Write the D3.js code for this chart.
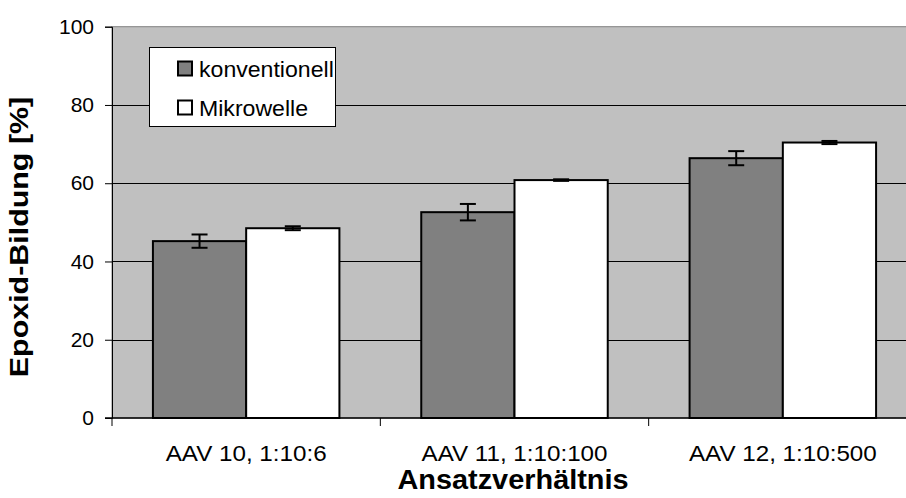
<!DOCTYPE html>
<html>
<head>
<meta charset="utf-8">
<script src="https://cdn.jsdelivr.net/npm/d3@7"></script>
<style>
  body { margin: 0; background: #fff; }
  text { font-family: "Liberation Sans", Arial, sans-serif; fill: #000; }
</style>
</head>
<body>
<div id="chart"></div>
<script>
// categories and series
var categories = ["AAV 10, 1:10:6", "AAV 11, 1:10:100", "AAV 12, 1:10:500"];
var seriesNames = ["konventionell", "Mikrowelle"];
var konventionell = [45.2, 52.6, 66.4];
var konventionellErr = [1.7, 2.1, 1.8];
var mikrowelle = [48.5, 60.8, 70.4];
var mikrowelleErr = [0.5, 0.2, 0.4];
var yTicks = [0, 20, 40, 60, 80, 100];

var colors = { "konventionell": "#808080", "Mikrowelle": "#ffffff" };

var width = 906, height = 498;
var plot = { left: 112, top: 26.7, right: 917, bottom: 418 };

// build rows for the groups
var rows = categories.map(function(c, i) {
    return {
        cat: c,
        vals: [
            { s: "konventionell", v: konventionell[i], e: konventionellErr[i] },
            { s: "Mikrowelle", v: mikrowelle[i], e: mikrowelleErr[i] }
        ]
    };
});

var svg = d3.select("#chart").append("svg")
    .attr("width", width)
    .attr("height", height);

var x0 = d3.scaleBand()
    .domain(categories)
    .range([plot.left, plot.right])
    .paddingInner(0.305)
    .paddingOuter(0.1525);

var x1 = d3.scaleBand()
    .domain(seriesNames)
    .range([0, x0.bandwidth()]);

var y = d3.scaleLinear()
    .domain([0, 100])
    .range([plot.bottom, plot.top]);

// plot area
svg.append("rect")
    .attr("x", plot.left)
    .attr("y", y(100))
    .attr("width", plot.right - plot.left)
    .attr("height", y(0) - y(100))
    .attr("fill", "#c0c0c0")
    .attr("stroke", "#808080")
    .attr("stroke-width", 1);

// gridlines
svg.append("g")
    .selectAll("line")
    .data(yTicks.filter(function(d) { return d > 0 && d < 100; }))
    .enter().append("line")
    .attr("x1", plot.left)
    .attr("x2", plot.right)
    .attr("y1", function(d) { return Math.round(y(d)) + 0.5; })
    .attr("y2", function(d) { return Math.round(y(d)) + 0.5; })
    .attr("stroke", "#000")
    .attr("stroke-width", 1);

// bars
var group = svg.append("g").selectAll("g")
    .data(rows)
    .enter().append("g")
    .attr("transform", function(d) { return "translate(" + x0(d.cat) + ",0)"; });

group.selectAll("rect")
    .data(function(d) { return d.vals; })
    .enter().append("rect")
    .attr("x", function(d) { return x1(d.s); })
    .attr("y", function(d) { return y(d.v); })
    .attr("width", x1.bandwidth())
    .attr("height", function(d) { return y(0) - y(d.v); })
    .attr("fill", function(d) { return colors[d.s]; })
    .attr("stroke", "#000")
    .attr("stroke-width", 2);

// error bars
var err = group.selectAll(".err")
    .data(function(d) { return d.vals; })
    .enter().append("g")
    .attr("class", "err")
    .attr("transform", function(d) { return "translate(" + (x1(d.s) + x1.bandwidth() / 2) + ",0)"; });

err.append("line")
    .attr("y1", function(d) { return y(d.v - d.e); })
    .attr("y2", function(d) { return y(d.v + d.e); })
    .attr("stroke", "#000")
    .attr("stroke-width", 2);

err.selectAll(".cap")
    .data(function(d) { return [d.v - d.e, d.v + d.e]; })
    .enter().append("line")
    .attr("x1", -8)
    .attr("x2", 8)
    .attr("y1", function(d) { return y(d); })
    .attr("y2", function(d) { return y(d); })
    .attr("stroke", "#000")
    .attr("stroke-width", 2);

// y axis
var yAxis = d3.axisLeft(y)
    .tickValues(yTicks)
    .tickSize(7)
    .tickPadding(11);

var yg = svg.append("g")
    .attr("transform", "translate(" + plot.left + ",0)")
    .call(yAxis);
yg.select(".domain").attr("stroke", "#000");
yg.selectAll("text")
    .style("font-size", "21px")
    .style("font-family", "'Liberation Sans', Arial, sans-serif");

// x axis: ticks sit between categories
var xg = svg.append("g")
    .attr("transform", "translate(0," + plot.bottom + ")");
xg.append("line")
    .attr("x1", plot.left - 7)
    .attr("x2", plot.right)
    .attr("stroke", "#000")
    .attr("stroke-width", 1.5);

var step = x0.step();
xg.selectAll(".tk")
    .data(categories)
    .enter().append("line")
    .attr("x1", function(c) { return x0(c) - x0.paddingInner() * step / 2; })
    .attr("x2", function(c) { return x0(c) - x0.paddingInner() * step / 2; })
    .attr("y1", 0)
    .attr("y2", 8)
    .attr("stroke", "#000");

// the reference text is a bit wider than Arial, so stretch it sideways
xg.selectAll(".lbl")
    .data(categories)
    .enter().append("text")
    .attr("transform", function(c) {
        return "translate(" + (x0(c) + x0.bandwidth() / 2) + ",43) scale(1.1,1)";
    })
    .attr("text-anchor", "middle")
    .style("font-size", "22px")
    .text(function(c) { return c; });

// axis titles
svg.append("text")
    .attr("transform", "translate(513,489) scale(1.07,1)")
    .attr("text-anchor", "middle")
    .style("font-size", "27px")
    .style("font-weight", "bold")
    .text("Ansatzverhältnis");

svg.append("text")
    .attr("transform", "translate(28,237) rotate(-90) scale(1.17,1)")
    .attr("text-anchor", "middle")
    .style("font-size", "26px")
    .style("font-weight", "bold")
    .text("Epoxid-Bildung [%]");

// legend
var legend = svg.append("g").attr("transform", "translate(149.5,47.5)");
legend.append("rect")
    .attr("width", 186)
    .attr("height", 79)
    .attr("fill", "#fff")
    .attr("stroke", "#000");

var li = legend.selectAll(".li")
    .data(seriesNames)
    .enter().append("g")
    .attr("transform", function(d, i) { return "translate(28.5," + (14 + i * 39) + ")"; });

li.append("rect")
    .attr("width", 14)
    .attr("height", 14)
    .attr("fill", function(d) { return colors[d]; })
    .attr("stroke", "#000")
    .attr("stroke-width", 2);

li.append("text")
    .attr("transform", "translate(21,15) scale(1.05,1)")
    .style("font-size", "22px")
    .text(function(d) { return d; });
</script>
</body>
</html>
